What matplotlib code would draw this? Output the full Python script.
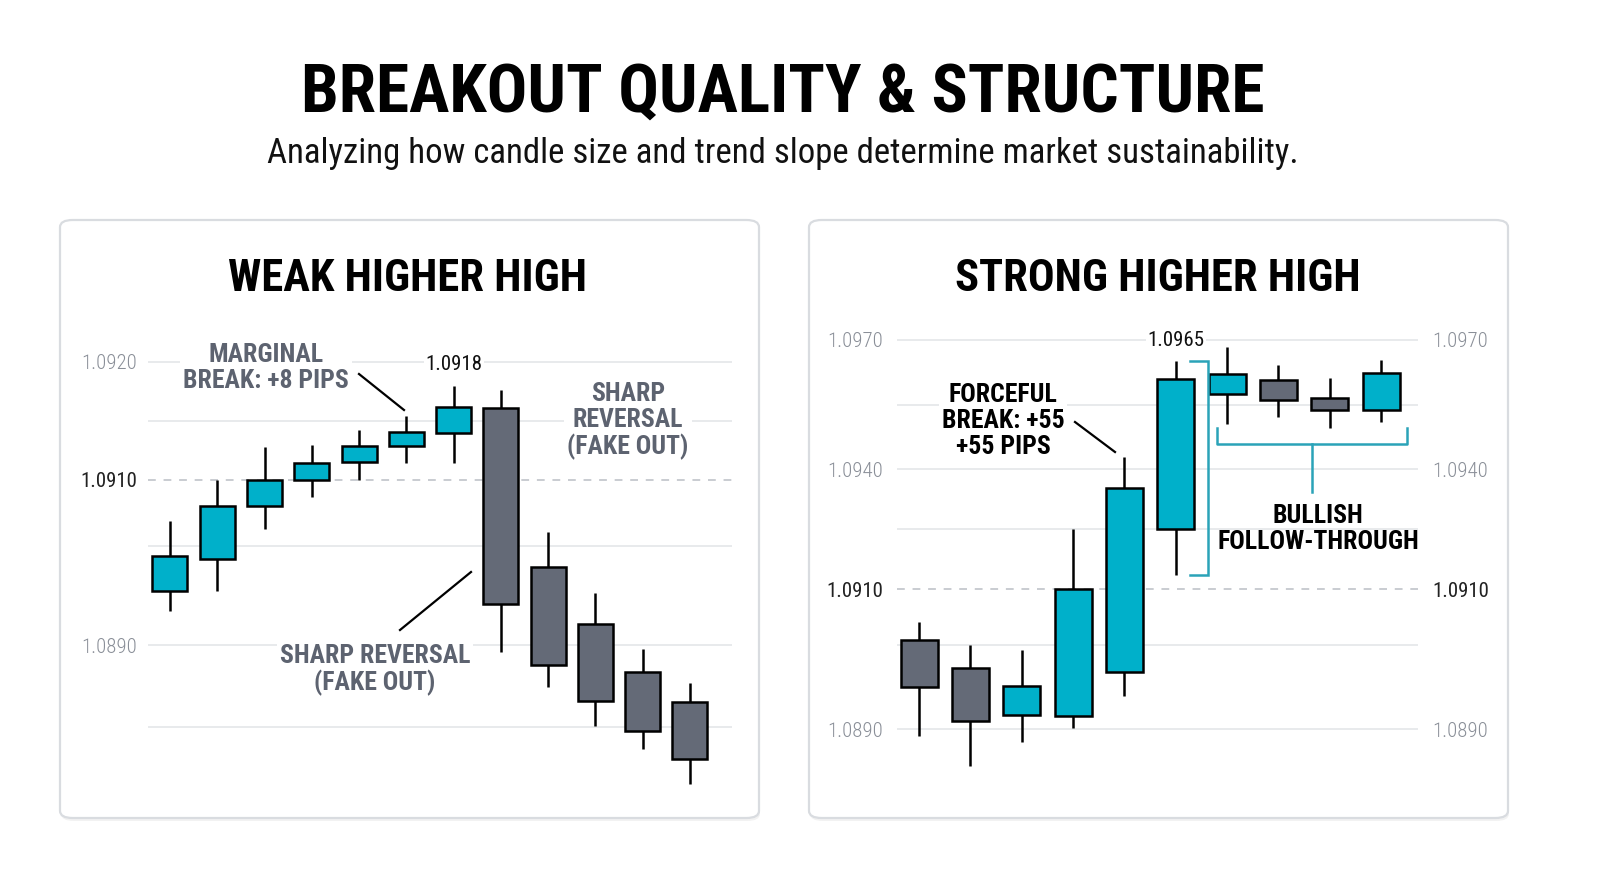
import matplotlib.pyplot as plt
import numpy as np
from matplotlib.patches import FancyBboxPatch
from matplotlib.lines import Line2D

W, H = 1600, 893
FONT = ['Roboto Condensed', 'DejaVu Sans']
plt.rcParams['font.family'] = FONT

TEAL = '#00b0ca'
GREY = '#646a77'
BRACKET = '#2aa3b8'

# weak higher high: OHLC
weak_open = [1.08965, 1.09004, 1.09068, 1.09100, 1.09115, 1.09129, 1.09140, 1.09161, 1.08995, 1.08925, 1.08867, 1.08831]
weak_high = [1.09050, 1.09100, 1.09128, 1.09130, 1.09142, 1.09154, 1.09180, 1.09176, 1.09037, 1.08963, 1.08895, 1.08854]
weak_low = [1.08941, 1.08965, 1.09040, 1.09079, 1.09100, 1.09114, 1.09114, 1.08891, 1.08849, 1.08802, 1.08774, 1.08731]
weak_close = [1.09008, 1.09069, 1.09100, 1.09114, 1.09129, 1.09141, 1.09162, 1.08950, 1.08876, 1.08832, 1.08796, 1.08762]
weak_ticks = [1.0890, 1.0910, 1.0920]
weak_grid = [1.0880, 1.0890, 1.0902, 1.0915, 1.0920]

# strong higher high: OHLC
strong_open = [1.09027, 1.08987, 1.08920, 1.08919, 1.08981, 1.09251, 1.09575, 1.09606, 1.09565, 1.09538]
strong_high = [1.09053, 1.09020, 1.09013, 1.09250, 1.09427, 1.09650, 1.09683, 1.09643, 1.09612, 1.09654]
strong_low = [1.08890, 1.08847, 1.08881, 1.08901, 1.08947, 1.09135, 1.09505, 1.09520, 1.09495, 1.09510]
strong_close = [1.08960, 1.08912, 1.08961, 1.09100, 1.09353, 1.09609, 1.09621, 1.09561, 1.09537, 1.09624]
strong_ticks = [1.0890, 1.0910, 1.0940, 1.0970]
strong_grid = [1.0890, 1.0902, 1.0925, 1.0940, 1.0955, 1.0970]
breakout_level = 1.0910


def P(x, y):
    return x / W, 1 - y / H


def make_scale(prices, pixels):
    pr = np.asarray(prices, float)
    px = np.asarray(pixels, float)

    def fwd(v):
        return -np.interp(np.asarray(v, float), pr, px)

    def inv(v):
        return np.interp(np.asarray(v, float), -px, pr)
    return fwd, inv


def candles(ax, o, h, l, c, width):
    idx = np.arange(len(o))
    o, h, l, c = map(np.asarray, (o, h, l, c))
    cols = [TEAL if cc >= oo else GREY for oo, cc in zip(o, c)]
    ax.vlines(idx, l, h, color='black', lw=1.8, zorder=3)
    ax.bar(idx, np.abs(c - o), bottom=np.minimum(o, c), width=width,
           color=cols, edgecolor='black', linewidth=1.8, zorder=4)


def setup(ax, grid, ticks, scale, ylim, xlim):
    ax.set_yscale('function', functions=scale)
    ax.set_facecolor('none')
    for s in ax.spines.values():
        s.set_visible(False)
    for g in grid:
        ax.axhline(g, color='#e4e6e9', lw=1.2, zorder=1)
    ax.axhline(breakout_level, color='#c9ccd1', lw=1.4, ls=(0, (4, 4)), zorder=1)
    ax.set_xticks([])
    ax.set_yticks(ticks)
    ax.set_yticklabels([f'{t:.4f}' for t in ticks])
    ax.tick_params(axis='y', length=0, labelsize=15, pad=8)
    ax.set_ylim(*ylim)
    ax.set_xlim(*xlim)


def color_ticks(ax):
    for tk in ax.yaxis.get_major_ticks():
        dark = abs(tk.get_loc() - breakout_level) < 1e-9
        for lab in (tk.label1, tk.label2):
            lab.set_color('#222222' if dark else '#8a8f98')
            lab.set_fontweight('normal' if dark else 'light')


fig = plt.figure(figsize=(16, 8.93), dpi=100)
fig.patch.set_facecolor('white')

# panels
for x0 in (60, 809):
    sh = FancyBboxPatch(P(x0 + 1, 821), 699 / W, 598 / H, boxstyle='round,pad=0,rounding_size=0.008',
                        transform=fig.transFigure, facecolor='#000000', alpha=0.05, edgecolor='none', zorder=-3)
    box = FancyBboxPatch(P(x0, 818), 699 / W, 598 / H, boxstyle='round,pad=0,rounding_size=0.008',
                         transform=fig.transFigure, facecolor='white', edgecolor='#d9dce0', lw=1.6, zorder=-2)
    fig.patches.extend([sh, box])

# left axes
wf, wi = make_scale([1.0850, 1.0890, 1.0910, 1.0920, 1.0960], [975, 645, 480, 362, -110])
axL = fig.add_axes([148 / W, 1 - 800 / H, 584 / W, 500 / H])
setup(axL, weak_grid, weak_ticks, (wf, wi), (wi(-800), wi(-300)), (-0.465, 11.89))
color_ticks(axL)
candles(axL, weak_open, weak_high, weak_low, weak_close, 0.74)
top = int(np.argmax(weak_high))
axL.annotate(f'{weak_high[top]:.4f}', (top, weak_high[top]), xytext=(0, 8), textcoords='offset points',
             ha='center', va='bottom', fontsize=15, color='#111111', zorder=5,
             bbox=dict(facecolor='white', edgecolor='none', pad=1))

# right axes
sf, si = make_scale([1.0850, 1.0890, 1.0910, 1.0940, 1.0970, 1.1010], [1009, 729, 589, 469, 340, 168])
axR = fig.add_axes([897 / W, 1 - 800 / H, 521 / W, 500 / H])
setup(axR, strong_grid, strong_ticks, (sf, si), (si(-800), si(-300)), (-0.43, 9.72))
axR.tick_params(axis='y', labelright=True, pad=10)
color_ticks(axR)
candles(axR, strong_open, strong_high, strong_low, strong_close, 0.72)
top = int(np.argmax(strong_high[:6]))
axR.annotate(f'{strong_high[top]:.4f}', (top, strong_high[top]), xytext=(0, 8), textcoords='offset points',
             ha='center', va='bottom', fontsize=15, color='#111111', zorder=5,
             bbox=dict(facecolor='white', edgecolor='none', pad=1))

# bracket around breakout candle
bx = top + 0.62
axR.plot([bx - 0.35, bx, bx, bx - 0.35], [strong_high[top], strong_high[top], strong_low[top], strong_low[top]],
         color=BRACKET, lw=1.8, zorder=5, solid_joinstyle='miter')
# bracket under follow-through
fx0, fx1 = top + 0.8, len(strong_open) - 1 + 0.5
yb, ye, ys = 1.09457, 1.09495, 1.09343
axR.plot([fx0, fx0, fx1, fx1], [ye, yb, yb, ye], color=BRACKET, lw=1.8, zorder=5)
axR.plot([(fx0 + fx1) / 2] * 2, [yb, ys], color=BRACKET, lw=1.8, zorder=5)

# titles
fig.text(*P(783, 94), 'BREAKOUT QUALITY & STRUCTURE', ha='center', va='center',
         fontsize=48.5, fontweight='bold', color='black')
fig.text(*P(783, 154), 'Analyzing how candle size and trend slope determine market sustainability.',
         ha='center', va='center', fontsize=25, color='#111111')
fig.text(*P(407, 279), 'WEAK HIGHER HIGH', ha='center', va='center', fontsize=32, fontweight='bold')
fig.text(*P(1158, 279), 'STRONG HIGHER HIGH', ha='center', va='center', fontsize=32, fontweight='bold')

ann = dict(ha='center', va='center', fontsize=18.5, fontweight='bold', linespacing=1.1, zorder=6)
box_w = dict(facecolor='white', edgecolor='none', pad=2)
fig.text(*P(266, 368), 'MARGINAL\nBREAK: +8 PIPS', color='#5d6370', bbox=box_w, **ann)
fig.text(*P(628, 421), 'SHARP\nREVERSAL\n(FAKE OUT)', color='#5d6370', bbox=box_w, **ann)
fig.text(*P(375, 670), 'SHARP REVERSAL\n(FAKE OUT)', color='#5d6370', bbox=box_w, **ann)
fig.text(*P(1003, 421), 'FORCEFUL\nBREAK: +55\n+55 PIPS', color='black', bbox=box_w, **ann)
fig.text(*P(1318, 529), 'BULLISH\nFOLLOW-THROUGH', color='black', **ann)

for (x1, y1, x2, y2) in [(359, 374, 404, 410), (400, 630, 471, 572), (1075, 422, 1115, 452)]:
    fig.add_artist(Line2D([x1 / W, x2 / W], [1 - y1 / H, 1 - y2 / H], transform=fig.transFigure,
                          color='black', lw=1.6))

fig.savefig('out.png', dpi=100, facecolor='white')
